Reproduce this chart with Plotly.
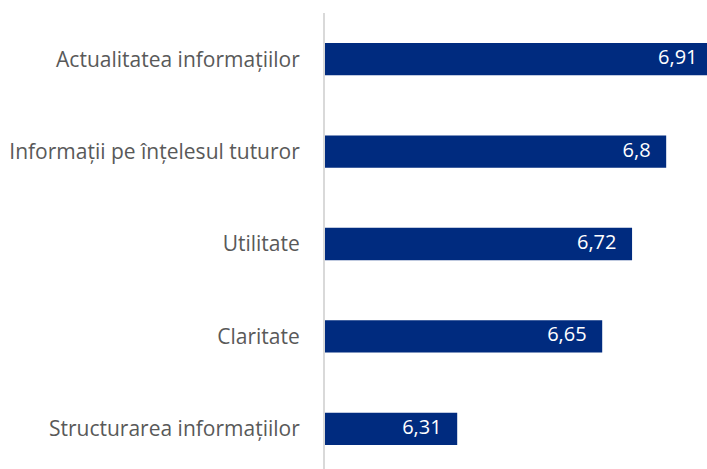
import plotly.graph_objects as go

categories = [
    "Actualitatea informațiilor",
    "Informații pe înțelesul tuturor",
    "Utilitate",
    "Claritate",
    "Structurarea informațiilor",
]
values = [6.91, 6.8, 6.72, 6.65, 6.31]
labels = [f"{v:g}".replace(".", ",") for v in values]

fig = go.Figure()

fig.add_trace(
    go.Bar(
        x=values, y=categories, orientation="h",
        marker=dict(color="#002B7F", line=dict(width=0)),
        width=0.35,
        hoverinfo="skip",
    )
)

# value labels as a text trace so the clipped top bar still gets its label
fig.add_trace(
    go.Scatter(
        x=values, y=categories, mode="text",
        text=[t + "\u00a0\u00a0\u00a0" for t in labels],
        textposition="middle left",
        textfont=dict(family="Open Sans", size=20, color="white"),
        cliponaxis=True,
        hoverinfo="skip",
    )
)

fig.update_layout(
    width=707, height=469,
    margin=dict(l=325, r=0, t=13, b=0, autoexpand=False),
    plot_bgcolor="white", paper_bgcolor="white",
    showlegend=False,
    font=dict(family="Open Sans", size=21, color="#595959"),
    xaxis=dict(range=[6, 6.8957], visible=False, automargin=False),
    yaxis=dict(
        range=[4.435, -0.5], showline=True, linecolor="#D9D9D9", linewidth=2,
        showgrid=False, ticks="", ticklabelstandoff=19, automargin=False,
    ),
)

fig.write_html(
    "out.html",
    config={"displayModeBar": False},
    post_script="document.body.style.margin='0';",
)
